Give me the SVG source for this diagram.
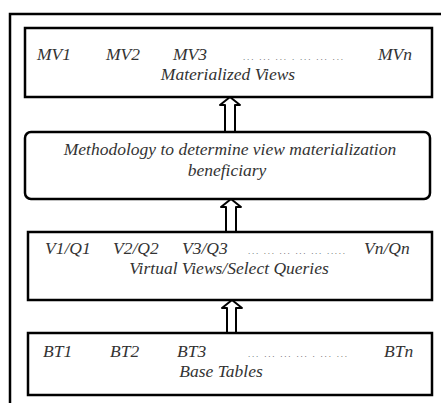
<svg xmlns="http://www.w3.org/2000/svg" width="441" height="403" viewBox="0 0 441 403">
<style>
.box{fill:#fff;stroke:#000;stroke-width:2.5}
.t{font-family:"Liberation Serif","Times New Roman",serif;font-style:italic;font-size:17.5px;fill:#333}
.c{text-anchor:middle}
.d{font-family:"Liberation Serif","Times New Roman",serif;font-size:9px;fill:#555}
.arr{fill:#fff;stroke:#000;stroke-width:2;stroke-linejoin:round}
.frame{fill:none;stroke:#000;stroke-width:2.5}
</style>
<rect width="441" height="403" fill="#fff"/>
<path class="frame" d="M10,403 V14 H441"/>
<g id="connectors">
<path class="arr" d="M230,97 L240,105 L235,105 L235,132 L225,132 L225,105 L220,105 Z"/>
<path class="arr" d="M231,199 L241,207 L236,207 L236,232 L226,232 L226,207 L221,207 Z"/>
<path class="arr" d="M232,300 L242,308 L236,308 L236,333 L227,333 L227,308 L222,308 Z"/>
</g>
<g id="materialized-views">
<rect class="box" x="25" y="28" width="407" height="69"/>
<text class="t" x="37" y="60">MV1</text>
<text class="t" x="106" y="60">MV2</text>
<text class="t" x="173" y="60">MV3</text>
<text class="d" x="243" y="60" textLength="100" lengthAdjust="spacing">... ... ... . ... ... ...</text>
<text class="t" x="378" y="60">MVn</text>
<text class="t c" x="228" y="79.5">Materialized Views</text>
</g>
<g id="methodology">
<rect class="box" x="25" y="132" width="405" height="67" rx="6"/>
<text class="t c" x="230" y="155">Methodology to determine view materialization</text>
<text class="t c" x="227" y="176">beneficiary</text>
</g>
<g id="virtual-views">
<rect class="box" x="28" y="232" width="404" height="68"/>
<text class="t" x="45" y="254">V1/Q1</text>
<text class="t" x="113" y="254">V2/Q2</text>
<text class="t" x="182" y="254">V3/Q3</text>
<text class="d" x="248" y="254" textLength="97" lengthAdjust="spacing">... ... ... ... ... .....</text>
<text class="t" x="364" y="254">Vn/Qn</text>
<text class="t c" x="229" y="273.5">Virtual Views/Select Queries</text>
</g>
<g id="base-tables">
<rect class="box" x="28" y="333" width="404" height="62"/>
<text class="t" x="43" y="357">BT1</text>
<text class="t" x="110" y="357">BT2</text>
<text class="t" x="177" y="357">BT3</text>
<text class="d" x="248" y="357" textLength="99" lengthAdjust="spacing">... ... ... ... . ... ...</text>
<text class="t" x="384" y="357">BTn</text>
<text class="t c" x="221" y="376.5">Base Tables</text>
</g>
</svg>
